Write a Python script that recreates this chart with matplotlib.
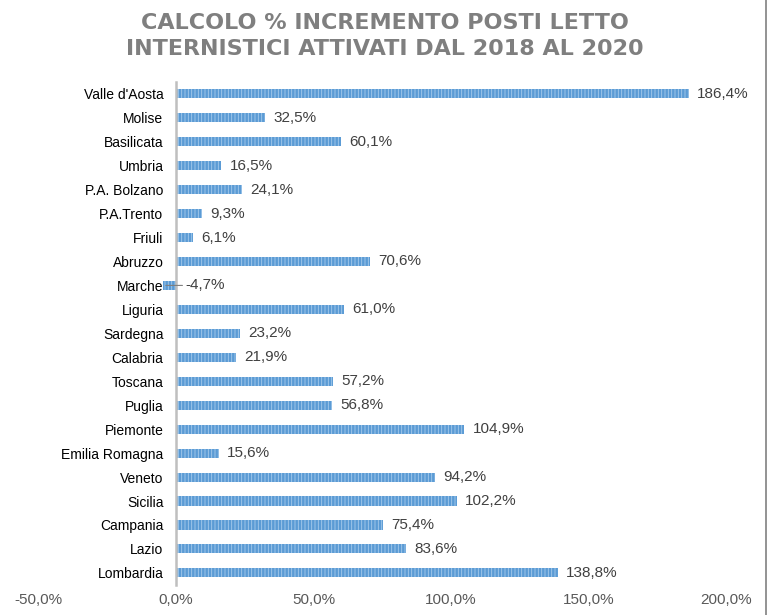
import matplotlib.pyplot as plt
from matplotlib.lines import Line2D

regions = ["Valle d'Aosta", "Molise", "Basilicata", "Umbria", "P.A. Bolzano",
           "P.A.Trento", "Friuli", "Abruzzo", "Marche", "Liguria", "Sardegna",
           "Calabria", "Toscana", "Puglia", "Piemonte", "Emilia Romagna",
           "Veneto", "Sicilia", "Campania", "Lazio", "Lombardia"]
increment = [186.4, 32.5, 60.1, 16.5, 24.1, 9.3, 6.1, 70.6, -4.7, 61.0, 23.2,
             21.9, 57.2, 56.8, 104.9, 15.6, 94.2, 102.2, 75.4, 83.6, 138.8]
xticks = [-50, 0, 50, 100, 150, 200]

def pct(v):
    return f"{v:.1f}%".replace(".", ",")

plt.rcParams['font.family'] = ['Liberation Sans Narrow', 'Liberation Sans', 'DejaVu Sans']
plt.rcParams['hatch.linewidth'] = 0.6

fig = plt.figure(figsize=(7.69, 6.15), dpi=100)
ax = fig.add_axes([0.050, 0.049, 0.894, 0.818])

ypos = list(range(len(regions)))
ax.barh(ypos, increment, height=0.38, color='#5B9BD5', edgecolor='#A8CCEC',
        linewidth=0, hatch='|||||')

for y, v in zip(ypos, increment):
    if v >= 0:
        ax.annotate(pct(v), (v, y), xytext=(6, 0), textcoords='offset points',
                    va='center', ha='left', fontsize=11, color='#404040')
    else:
        ax.annotate(pct(v), (v, y), xytext=(16, 0), textcoords='offset points',
                    va='center', ha='left', fontsize=11, color='#404040',
                    arrowprops=dict(arrowstyle='-', color='#7F7F7F', lw=0.8,
                                    shrinkA=0, shrinkB=2))

ax.set_xlim(-50, 200)
ax.set_ylim(len(regions) - 0.5, -0.5)
ax.set_xticks(xticks)
ax.set_xticklabels([pct(t) for t in xticks], fontsize=11, color='#595959')
ax.set_yticks(ypos)
ax.set_yticklabels(regions, fontsize=11.5, color='#595959')
ax.tick_params(length=0)
ax.tick_params(axis='x', pad=6)
ax.tick_params(axis='y', pad=9)
for s in ['top', 'right', 'bottom']:
    ax.spines[s].set_visible(False)
ax.spines['left'].set_position(('data', 0))
ax.spines['left'].set_color('#BFBFBF')
ax.spines['left'].set_linewidth(1.8)

fig.text(0.5, 0.963, "CALCOLO % INCREMENTO POSTI LETTO", ha='center', va='center',
         fontsize=16, fontweight='bold', color='#7F7F7F', family='DejaVu Sans')
fig.text(0.5, 0.921, "INTERNISTICI ATTIVATI DAL 2018 AL 2020", ha='center', va='center',
         fontsize=16, fontweight='bold', color='#7F7F7F', family='DejaVu Sans')

fig.add_artist(Line2D([0.996, 0.996], [0, 1], transform=fig.transFigure,
                      color='#808080', lw=1.2))

fig.savefig('out.png', dpi=100)
